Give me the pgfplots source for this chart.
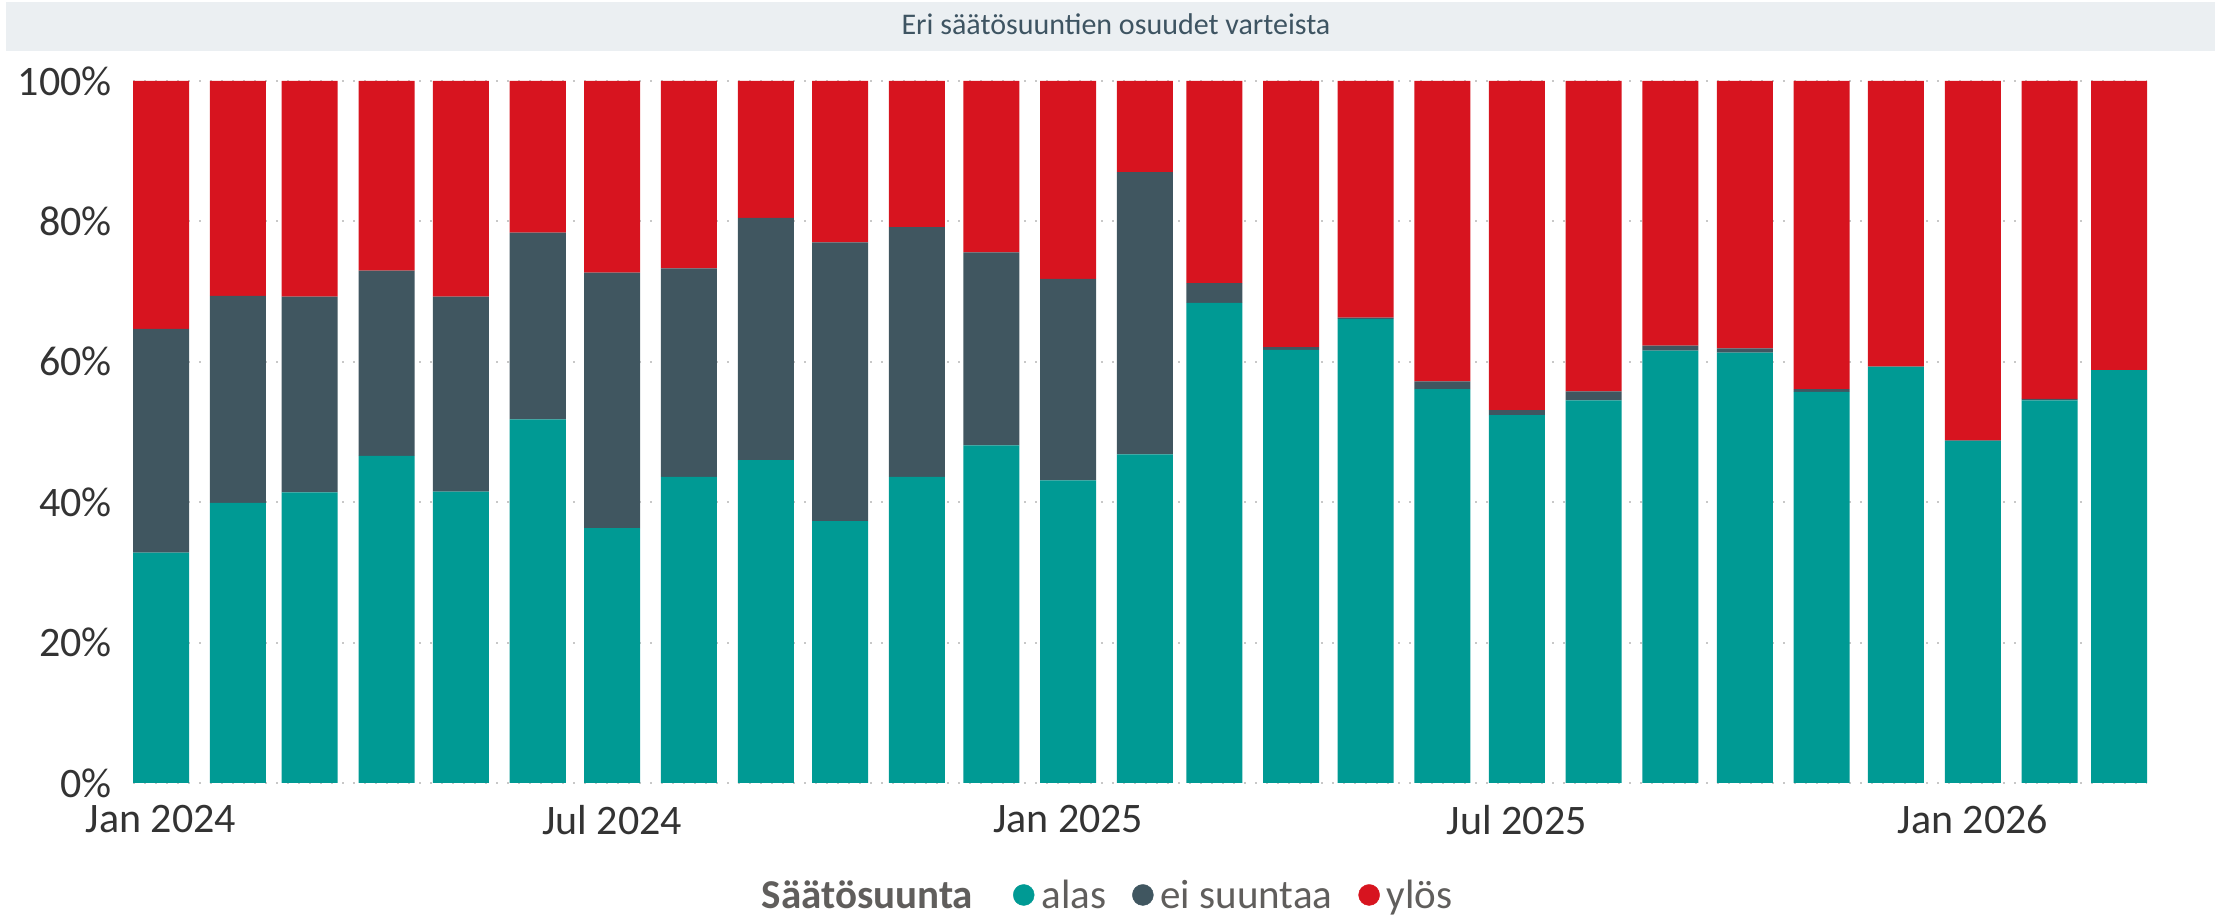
\documentclass[border=0pt]{standalone}
\usepackage{fontspec}
\setmainfont{Carlito}
\usepackage{pgfplots}
\usepackage{pgfplotstable}
\pgfplotsset{compat=1.18}

\definecolor{alascol}{RGB}{0,154,148}
\definecolor{eicol}{RGB}{64,86,96}
\definecolor{yloscol}{RGB}{215,20,31}
\definecolor{titlebg}{RGB}{235,239,242}
\definecolor{titlefg}{RGB}{62,84,98}
\definecolor{tickfg}{RGB}{51,51,51}
\definecolor{legfg}{RGB}{96,94,92}
\definecolor{gridcol}{RGB}{200,200,200}

% day = days since 1 Jan 2024 (one bar per month), shares in percent
\pgfplotstableread{
day alas ei ylos
0   32.8 31.9 35.3
31  39.9 29.5 30.6
60  41.4 27.9 30.7
91  46.6 26.4 27.0
121 41.5 27.8 30.7
152 51.8 26.6 21.6
182 36.3 36.4 27.3
213 43.6 29.7 26.7
244 46.0 34.5 19.5
274 37.3 39.7 23.0
305 43.6 35.6 20.8
335 48.1 27.5 24.4
366 43.1 28.7 28.2
397 46.8 40.2 13.0
425 68.4 2.8  28.8
456 61.7 0.4  37.9
486 66.1 0.2  33.7
517 56.1 1.1  42.8
547 52.4 0.7  46.9
578 54.5 1.3  44.2
609 61.6 0.7  37.7
639 61.3 0.6  38.1
670 55.7 0.4  43.9
700 59.3 0.0  40.7
731 48.7 0.1  51.2
762 54.5 0.2  45.3
790 58.8 0.0  41.2
}\saato

\begin{document}
\begin{tikzpicture}
\useasboundingbox (0,0) rectangle (2229pt,917pt);
\fill[titlebg] (6pt,866pt) rectangle (2215pt,915pt);
\node[text=titlefg, font=\fontsize{30}{36}\selectfont, inner sep=0pt] at (1116pt,893pt) {Eri säätösuuntien osuudet varteista};
\begin{axis}[
  at={(133pt,134pt)}, anchor=south west,
  scale only axis, width=2014pt, height=702pt,
  ybar stacked, bar width=22.6,
  xmin=-11.3, xmax=801.3, ymin=0, ymax=100,
  enlargelimits=false,
  axis line style={draw=none},
  major tick length=0pt,
  xtick={0,182,366,547,731},
  xticklabels={Jan 2024,Jul 2024,Jan 2025,Jul 2025,Jan 2026},
  ytick={0,20,40,60,80,100},
  yticklabels={0\%,20\%,40\%,60\%,80\%,100\%},
  ymajorgrids,
  grid style={gridcol, line width=2pt, dash pattern=on 2pt off 9pt},
  ticklabel style={text=tickfg, font=\fontsize{42}{50}\selectfont, inner sep=0pt},
  xticklabel style={anchor=north, yshift=-22pt},
  yticklabel style={anchor=east, xshift=-21pt},
  legend style={at={(axis description cs:0.4819,-0.1595)}, anchor=center,
    draw=none, fill=none, legend columns=-1, text=legfg,
    font=\fontsize{41}{49}\selectfont, nodes={inner sep=0pt},
    /tikz/every odd column/.append style={column sep=7pt},
    /tikz/every even column/.append style={column sep=26pt}},
]
\addplot[fill=alascol, draw=none, forget plot] table[x=day, y=alas] {\saato};
\addplot[fill=eicol, draw=none, forget plot] table[x=day, y=ei] {\saato};
\addplot[fill=yloscol, draw=none, forget plot] table[x=day, y=ylos] {\saato};

\addlegendimage{empty legend}
\addlegendentry{\textbf{Säätösuunta}\hspace*{14pt}}
\addlegendimage{legend image code/.code={\fill[alascol] (10.5pt,0pt) circle (10.5pt);}}
\addlegendentry{alas}
\addlegendimage{legend image code/.code={\fill[eicol] (10.5pt,0pt) circle (10.5pt);}}
\addlegendentry{ei suuntaa}
\addlegendimage{legend image code/.code={\fill[yloscol] (10.5pt,0pt) circle (10.5pt);}}
\addlegendentry{ylös}
\end{axis}
\end{tikzpicture}
\end{document}
